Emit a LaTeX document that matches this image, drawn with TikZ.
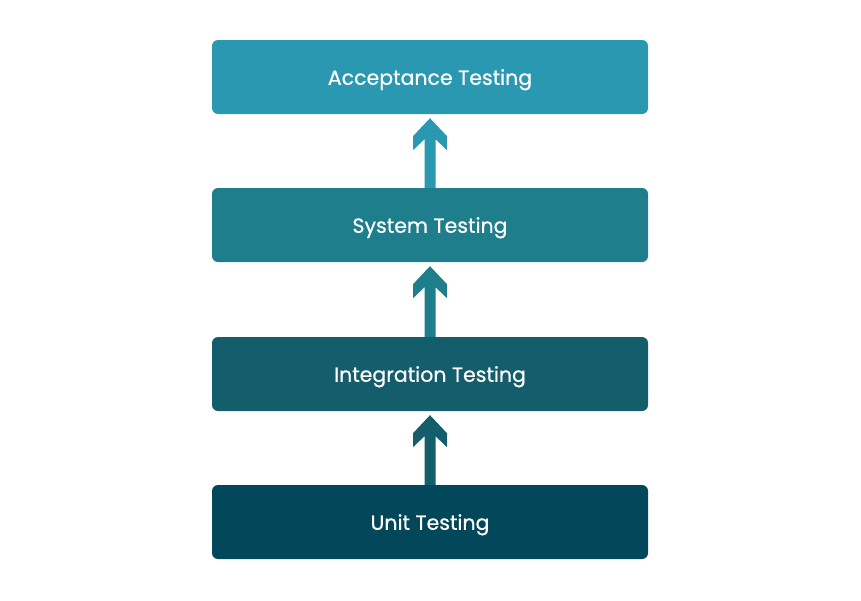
\documentclass[tikz,border=0pt]{standalone}
\usepackage{fontspec}
\usetikzlibrary{calc}
\setmainfont[FakeBold=0.6]{Poppins}
\definecolor{cA}{HTML}{2A98B0}
\definecolor{cS}{HTML}{1F7E8C}
\definecolor{cI}{HTML}{145E6C}
\definecolor{cU}{HTML}{03485A}
\begin{document}
\begin{tikzpicture}[x=1pt,y=-1pt,
  lvl/.style={rounded corners=6pt,minimum width=436pt,minimum height=74pt,text=white,font=\fontsize{20.5}{22}\selectfont,inner sep=0pt,text depth=0pt}]
\useasboundingbox (0,0) rectangle (861,600);
\node[lvl,fill=cA] (a) at (430,77) {Acceptance Testing};
\node[lvl,fill=cS] (s) at (430,225) {System Testing};
\node[lvl,fill=cI] (i) at (430,374) {Integration Testing};
\node[lvl,fill=cU] (u) at (430,522) {Unit Testing};
\newcommand\uparr[3]{%
  \path (#1.north) coordinate (t) (#2.south) coordinate (b);
  \fill[#3] ($(b)+(0,4)$) -- ($(b)+(17,22)$) -- ($(b)+(17,36)$) -- ($(b)+(5.5,25)$) -- ($(t)+(5.5,0)$)
     -- ($(t)+(-5.5,0)$) -- ($(b)+(-5.5,25)$) -- ($(b)+(-17,36)$) -- ($(b)+(-17,22)$) -- cycle;}
\uparr{s}{a}{cA}
\uparr{i}{s}{cS}
\uparr{u}{i}{cI}
\end{tikzpicture}
\end{document}
